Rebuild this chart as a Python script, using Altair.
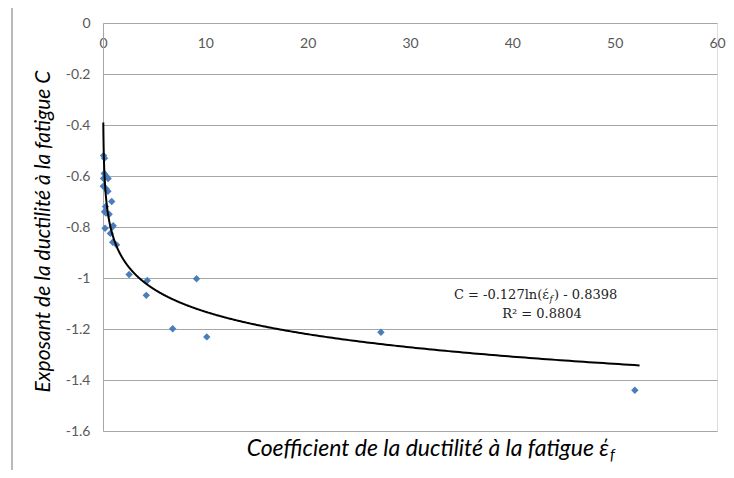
import math
import altair as alt
import pandas as pd

# ---- data ----
eps_f = [0.05, 0.15, 0.12, 0.30, 0.05, 0.50, 0.03, 0.30, 0.48, 0.85, 0.25, 0.15,
         0.30, 0.60, 0.20, 1.00, 0.90, 0.72, 0.95, 1.32, 2.55, 4.33, 4.23, 9.14,
         6.81, 10.14, 27.16, 51.97]
C_exp = [-0.52, -0.53, -0.59, -0.60, -0.61, -0.61, -0.64, -0.65, -0.66, -0.70,
         -0.72, -0.74, -0.745, -0.75, -0.805, -0.795, -0.80, -0.825, -0.86, -0.87,
         -0.986, -1.01, -1.068, -1.003, -1.199, -1.231, -1.213, -1.44]
x_ticks = [0, 10, 20, 30, 40, 50, 60]
y_ticks = [0, -0.2, -0.4, -0.6, -0.8, -1, -1.2, -1.4, -1.6]

# trend line as printed on the chart: C = -0.127 ln(eps) - 0.8398
trend_slope = -0.127
trend_intercept = -0.8398
trend_x_range = [0.029, 51.97]

x_title = "Coefficient de la ductilité à la fatigue έ"
x_title_sub = "f"
y_title = "Exposant de la ductilité à la fatigue C"
eq_left = "C = -0.127ln(έ"
eq_sub = "f"
eq_right = ") - 0.8398"
eq_r2 = "R² = 0.8804"

df = pd.DataFrame({"eps": eps_f, "C": C_exp})
one = pd.DataFrame({"k": [0]})

W, H = 614, 408
GRID = "#a6a6a6"
LABEL = "#595959"

x_scale = alt.Scale(domain=[0, 60], nice=False, zero=False)
y_scale = alt.Scale(domain=[-1.6, 0], nice=False, zero=False)

points = alt.Chart(df).mark_point(shape="diamond", filled=True, size=55,
                                  color="#4A7EBB", opacity=1).encode(
    x=alt.X("eps:Q", scale=x_scale,
            axis=alt.Axis(orient="bottom", offset=-H, values=x_ticks, grid=False,
                          ticks=False, domain=False, labelPadding=13,
                          labelFlush=False, labelFont="Lato", labelFontSize=14,
                          labelColor=LABEL, title=None)),
    y=alt.Y("C:Q", scale=y_scale,
            axis=alt.Axis(values=y_ticks, grid=True, gridColor=GRID, gridWidth=1,
                          ticks=False, domain=True, domainColor=GRID,
                          labelPadding=13, labelFont="Lato", labelFontSize=14,
                          labelColor=LABEL, labelExpr="'' + datum.value",
                          title=y_title, titleFont="Lato", titleFontSize=21,
                          titleFontStyle="italic", titleFontWeight="normal",
                          titleColor="black", titleX=-50, titleY=208)),
)

t0 = math.log(trend_x_range[0])
t1 = math.log(trend_x_range[1])
trend = alt.Chart(alt.sequence(t0, t1 + 0.01, 0.01, as_="t")).transform_calculate(
    eps="exp(datum.t)",
    C=f"{trend_slope} * datum.t + {trend_intercept}",
).mark_line(color="black", strokeWidth=2).encode(
    x=alt.X("eps:Q", scale=x_scale), y=alt.Y("C:Q", scale=y_scale))


def txt(text, x, y, **kw):
    return alt.Chart(one).mark_text(text=text, **kw).encode(
        x=alt.value(x), y=alt.value(y))


serif = "DejaVu Serif"
annot = [
    txt(x_title, 506, 426, align="right", baseline="middle", font="Lato",
        fontSize=23, fontStyle="italic", color="black"),
    txt(x_title_sub, 507, 432, align="left", baseline="middle", font="Lato",
        fontSize=15, fontStyle="italic", color="black"),
    txt(eq_left, 446, 272, align="right", baseline="middle", font=serif,
        fontSize=13, color="#222222"),
    txt(eq_sub, 446.5, 276, align="left", baseline="middle", font=serif,
        fontSize=9, fontStyle="italic", color="#222222"),
    txt(eq_right, 451, 272, align="left", baseline="middle", font=serif,
        fontSize=13, color="#222222"),
    txt(eq_r2, 439, 291, align="center", baseline="middle", font=serif,
        fontSize=13, color="#222222"),
]

frame = alt.Chart(one).mark_rect(filled=False, stroke="#8c8c8c",
                                 strokeWidth=1.2).encode(
    x=alt.value(-91), x2=alt.value(W + 60), y=alt.value(-18), y2=alt.value(H + 80))

chart = alt.layer(frame, points, trend, *annot).properties(
    width=W, height=H,
    autosize=alt.AutoSizeParams(type="none"),
    padding={"left": 95, "top": 15, "right": 9, "bottom": 39},
).configure_view(stroke=None).configure(background="white")

chart.save("out.html", embed_options={"renderer": "svg", "actions": False})
